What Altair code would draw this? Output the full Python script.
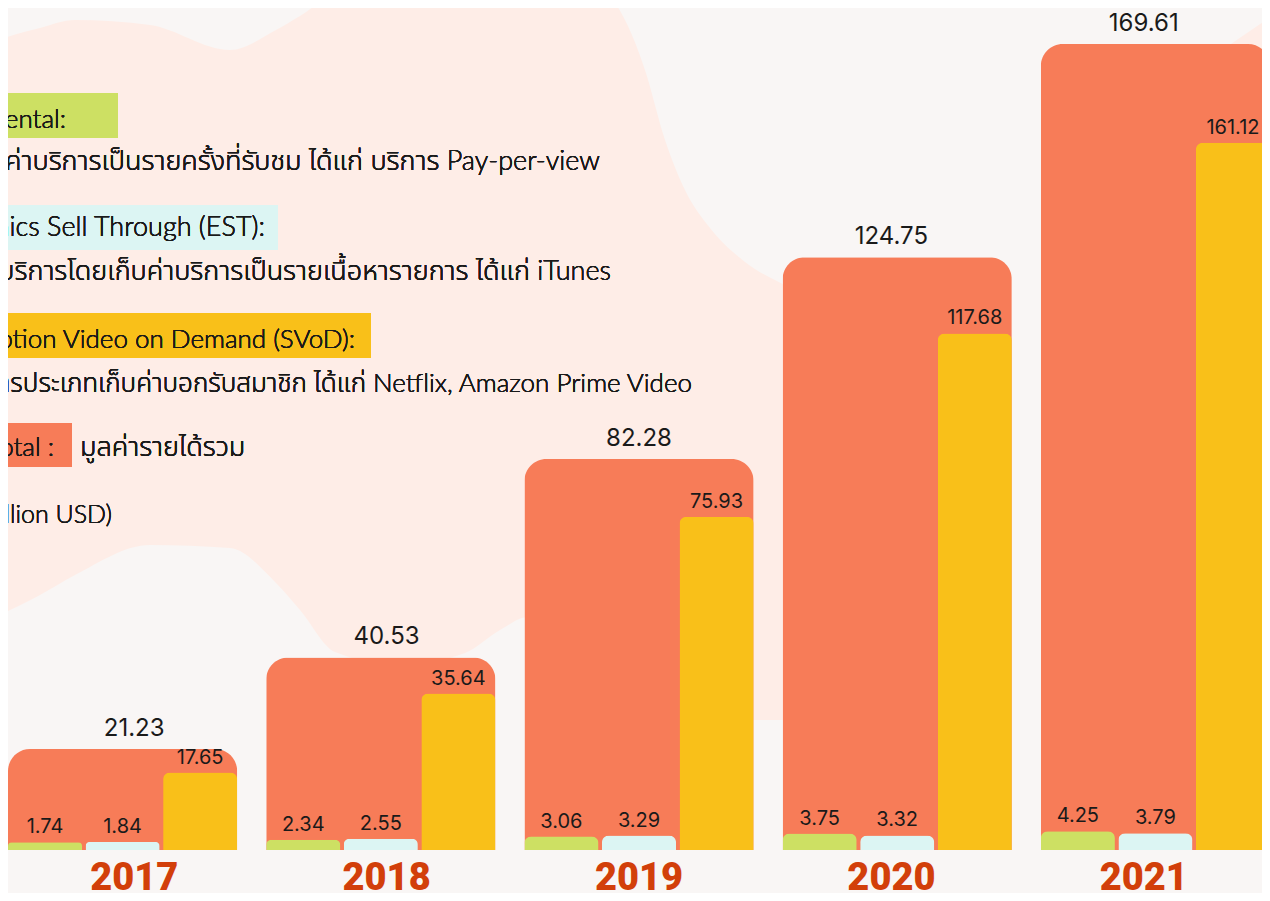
import altair as alt
import pandas as pd

# ---- data ----
years = ["2017", "2018", "2019", "2020", "2021"]
total = [21.23, 40.53, 82.28, 124.75, 169.61]
tvod = [1.74, 2.34, 3.06, 3.75, 4.25]
est = [1.84, 2.55, 3.29, 3.32, 3.79]
svod = [17.65, 35.64, 75.93, 117.68, 161.12]
series = ["TVoD", "EST", "SVoD"]
series_colors = ["#cde063", "#dcf5f3", "#f9c019"]

# ---- decorative background blob (page pixels) ----
blob_x = [-10, 0, 40, 75, 150, 230, 276, 300, 335, 400, 465, 500, 528, 600, 625, 645, 665, 685, 710, 745, 790, 830]
blob_top = [45, 40, 28, 20, 25, 50, 30, 16, -5, -10, -10, -10, -10, -10, 20, 70, 140, 190, 228, 262, 288, 310]
blob_bot = [620, 615, 595, 575, 545, 548, 583, 610, 652, 665, 653, 630, 617, 620, 640, 660, 680, 700, 710, 720, 720, 720]
blob2_x = [1225, 1275]
blob2_top = [48, 14]
blob2_bot = [120, 120]

W, H = 1254, 885          # fits the 1270x901 window with the 8px page margin
OFF = 8                   # page margin
BASE = 850 - OFF          # baseline in chart pixels
PX_TOTAL = 4.752
PX_INNER = 4.39
X_RANGE = 1262            # band range (last bar runs to the window edge)

df_total = pd.DataFrame({"year": years, "total": total})
rows = []
for i, y in enumerate(years):
    for s, vals in zip(series, [tvod, est, svod]):
        rows.append({"year": y, "series": s, "value": vals[i]})
df_inner = pd.DataFrame(rows)

df_blob = pd.DataFrame({"x": [v - OFF for v in blob_x], "t": [v - OFF for v in blob_top], "b": [v - OFF for v in blob_bot]})
df_blob2 = pd.DataFrame({"x": [v - OFF for v in blob2_x], "t": [v - OFF for v in blob2_top], "b": [v - OFF for v in blob2_bot]})

sc_total = alt.Scale(domain=[-(H - BASE) / PX_TOTAL, BASE / PX_TOTAL], nice=False, zero=False)
sc_inner = alt.Scale(domain=[-(H - BASE) / PX_INNER, BASE / PX_INNER], nice=False, zero=False)
xs = alt.X("year:N", sort=years,
           scale=alt.Scale(range=[0, X_RANGE], paddingInner=0.1124, paddingOuter=0), axis=None)
xo = alt.XOffset("series:N", sort=series, scale=alt.Scale(paddingInner=0.045, paddingOuter=0))

NUM_FONT = "Inter, Roboto, sans-serif"
TXT_FONT = "Lato, Noto Sans Thai, Noto Sans Thai Looped, Sarabun, Garuda, Loma, Noto Sans, sans-serif"

blob = alt.Chart(df_blob).mark_area(color="#feede7", interpolate="monotone").encode(
    x=alt.X("x:Q", scale=None), y=alt.Y("t:Q", scale=None), y2="b:Q")
blob2 = alt.Chart(df_blob2).mark_area(color="#feede7").encode(
    x=alt.X("x:Q", scale=None), y=alt.Y("t:Q", scale=None), y2="b:Q")

total_bars = alt.Chart(df_total).mark_bar(
    color="#f77c58", cornerRadiusTopLeft=22, cornerRadiusTopRight=22
).encode(x=xs, y=alt.Y("total:Q", scale=sc_total, axis=None))

total_text = alt.Chart(df_total).mark_text(
    baseline="bottom", dy=-8, fontSize=24, font=NUM_FONT, color="#1a1a1a"
).encode(x=xs, y=alt.Y("total:Q", scale=sc_total, axis=None), text=alt.Text("total:Q", format=".2f"))

inner_bars = alt.Chart(df_inner).mark_bar(
    cornerRadiusTopLeft=7, cornerRadiusTopRight=7
).encode(
    x=xs, xOffset=xo,
    y=alt.Y("value:Q", scale=sc_inner, axis=None),
    color=alt.Color("series:N", scale=alt.Scale(domain=series, range=series_colors), legend=None),
)

inner_text = alt.Chart(df_inner).mark_text(
    baseline="bottom", dy=-5, fontSize=20, font=NUM_FONT, color="#1a1a1a"
).encode(
    x=xs, xOffset=xo,
    y=alt.Y("value:Q", scale=sc_inner, axis=None),
    text=alt.Text("value:Q", format=".2f"),
)

year_text = alt.Chart(df_total).mark_text(
    fontSize=38, fontWeight=900, font="Roboto, DejaVu Sans, sans-serif",
    color="#d23f0a", baseline="middle"
).encode(x=xs, y=alt.value(879 - OFF), text="year:N")

# ---- legend annotation (page pixel positions) ----
boxes = [
    (-10, 118, 93, 138, "#cde063"),
    (-10, 278, 205, 250, "#dcf5f3"),
    (-10, 371, 313, 358, "#f9c019"),
    (-10, 72, 423, 467, "#f77c58"),
]
box_layers = [
    alt.Chart(df_total).mark_rect(color=c).encode(
        x=alt.value(x0 - OFF), x2=alt.value(x1 - OFF), y=alt.value(y0 - OFF), y2=alt.value(y1 - OFF))
    for x0, x1, y0, y1, c in boxes
]

notes = [
    ("Rental:", 66, 120, "right", 26),
    ("เก็บค่าบริการเป็นรายครั้งที่รับชม ได้แก่ บริการ Pay-per-view", 600, 162, "right", 27),
    ("Electronics Sell Through (EST):", 265, 228, "right", 27),
    ("บริการโดยเก็บค่าบริการเป็นรายเนื้อหารายการ ได้แก่ iTunes", 611, 272, "right", 27),
    ("Subscription Video on Demand (SVoD):", 355, 340, "right", 26),
    ("บริการประเภทเก็บค่าบอกรับสมาชิก ได้แก่ Netflix, Amazon Prime Video", 692, 384, "right", 26),
    ("Total :", 54, 448, "right", 26),
    ("มูลค่ารายได้รวม", 80, 448, "left", 27),
    ("(Million USD)", 112, 515, "right", 25),
]
note_layers = [
    alt.Chart(df_total).mark_text(
        align=a, baseline="middle", fontSize=fs, fontWeight=300, font=TXT_FONT, color="#1a1a1a"
    ).encode(x=alt.value(x - OFF), y=alt.value(y - OFF), text=alt.value(t))
    for t, x, y, a, fs in notes
]

chart = alt.layer(
    blob, blob2, *box_layers, *note_layers,
    total_bars, total_text, inner_bars, inner_text, year_text
).resolve_scale(y="independent", x="independent").properties(
    width=W, height=H, padding=0,
    autosize=alt.AutoSizeParams(type="none"),
    background="#f9f6f5",
).configure_view(stroke=None)

chart.save("out.html", embed_options={"renderer": "svg", "actions": False})
